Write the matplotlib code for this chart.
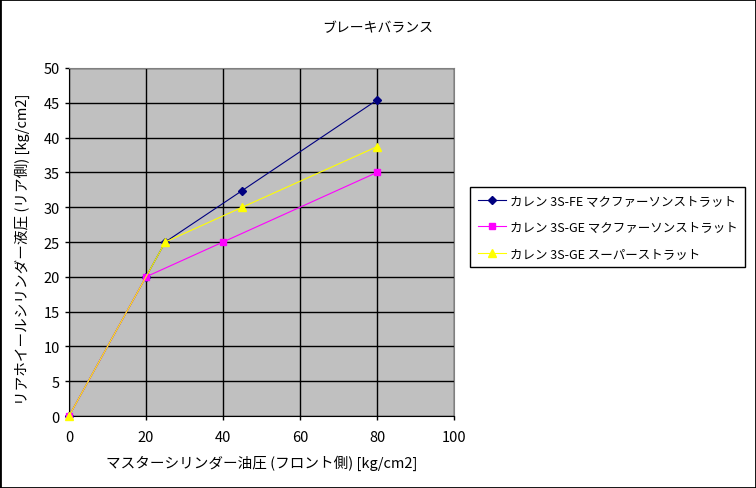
import matplotlib
matplotlib.use("Agg")
import matplotlib.pyplot as plt
from matplotlib.patches import Rectangle

plt.rcParams['font.family'] = ['Noto Sans CJK JP', 'DejaVu Sans']

# data
fe_x = [0, 20, 25, 45, 80]
fe_y = [0, 20, 25, 32.4, 45.4]
ge_x = [0, 20, 40, 80]
ge_y = [0, 20, 25, 35]
sp_x = [0, 25, 45, 80]
sp_y = [0, 25, 30, 38.7]

labels = ["カレン 3S-FE マクファーソンストラット",
          "カレン 3S-GE マクファーソンストラット",
          "カレン 3S-GE スーパーストラット"]

fig = plt.figure(figsize=(7.56, 4.89), dpi=100)
fig.patches.append(Rectangle((0, 0), 1, 1, transform=fig.transFigure,
                             fill=False, edgecolor='black', linewidth=2))

ax = fig.add_axes([0.0913, 0.1472, 0.5093, 0.7117])
ax.set_facecolor('#C0C0C0')

l1, = ax.plot(fe_x, fe_y, color='#000080', lw=0.8, marker='D', ms=4,
              clip_on=False, zorder=3)
l2, = ax.plot(ge_x, ge_y, color='#FF00FF', lw=0.8, marker='s', ms=5,
              clip_on=False, zorder=4)
l3, = ax.plot(sp_x, sp_y, color='#FFFF00', lw=0.8, marker='^', ms=6,
              clip_on=False, zorder=5)

ax.set_xlim(0, 100)
ax.set_ylim(0, 50)
ax.set_xticks(range(0, 101, 20))
ax.set_yticks(range(0, 51, 5))
ax.grid(True, color='black', lw=1)
ax.set_axisbelow(True)
ax.tick_params(direction='out', length=3, labelsize=10.5, width=1)
ax.tick_params(axis='x', pad=7)

for s in ['top', 'right']:
    ax.spines[s].set_color('#808080')
for s in ['left', 'bottom']:
    ax.spines[s].set_color('black')

fig.text(0.5, 0.943, "ブレーキバランス", ha='center', va='center', fontsize=10)
fig.text(0.346, 0.053, "マスターシリンダー油圧 (フロント側) [kg/cm2]",
         ha='center', va='center', fontsize=10.5)
fig.text(0.03, 0.49, "リアホイールシリンダー液圧 (リア側) [kg/cm2]",
         ha='center', va='center', fontsize=10.5, rotation=90)

leg = fig.legend([l1, l2, l3], labels, loc='center left',
                 bbox_to_anchor=(0.6217, 0.533), borderaxespad=0,
                 fontsize=9.0, frameon=True, fancybox=False,
                 edgecolor='black', framealpha=1, borderpad=0.6,
                 labelspacing=1.05, handlelength=2.3, handletextpad=0.3)
leg.get_frame().set_linewidth(1)

fig.savefig("out.png", dpi=100)
